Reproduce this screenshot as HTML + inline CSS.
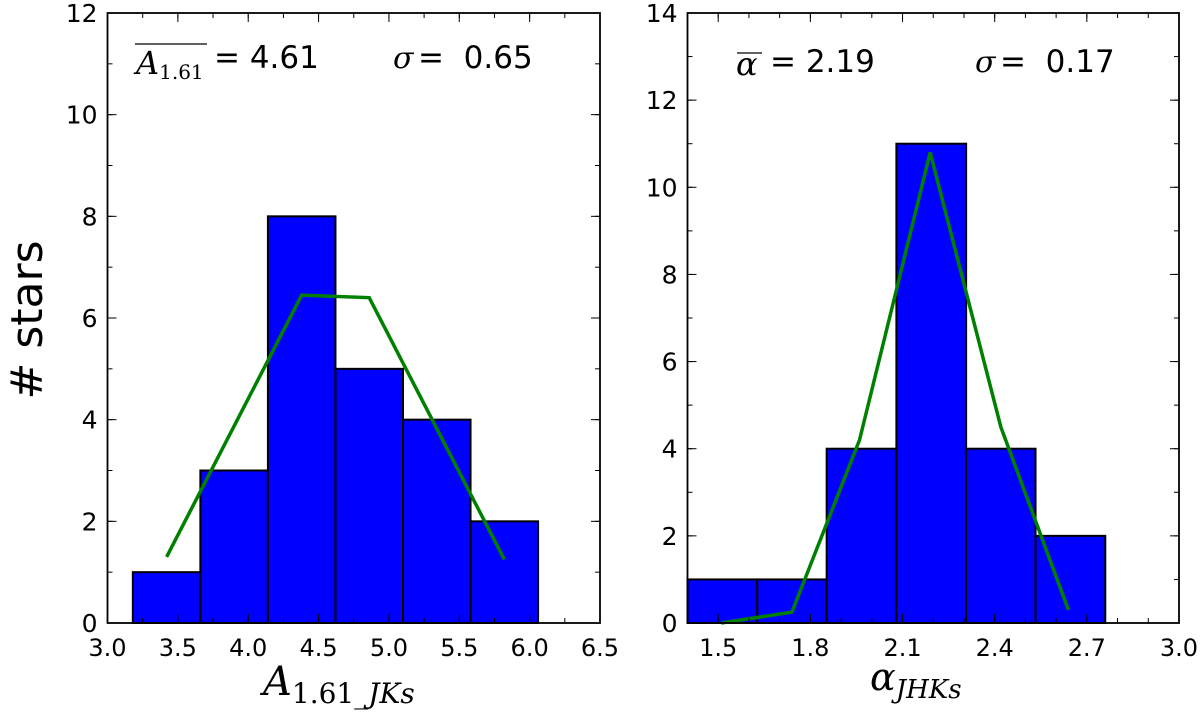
<!DOCTYPE html>
<html><head><meta charset="utf-8"><style>
body{margin:0;background:#fff;}
svg text{font-family:"DejaVu Sans","Liberation Sans",sans-serif;fill:#000;}
.serif{font-family:"DejaVu Serif","Liberation Serif",serif;font-style:italic;}
</style></head><body>
<svg id="chart" width="1200" height="722" xmlns="http://www.w3.org/2000/svg">
<text x="0" y="0" font-size="44" text-anchor="middle" transform="translate(42,320) rotate(-90)"># stars</text>
</svg>
<script>
// Left panel data
const leftEdges = [3.18, 3.66, 4.14, 4.62, 5.10, 5.58, 6.06];
const leftCounts = [1, 3, 8, 5, 4, 2];
const leftFitX = [3.42, 4.38, 4.86, 5.82];
const leftFitY = [1.3, 6.45, 6.4, 1.25];
const leftXTicks = ["3.0","3.5","4.0","4.5","5.0","5.5","6.0","6.5"];
const leftYTicks = ["0","2","4","6","8","10","12"];
// Right panel data
const rightEdges = [1.40, 1.627, 1.853, 2.08, 2.307, 2.533, 2.76];
const rightCounts = [1, 1, 4, 11, 4, 2];
const rightFitX = [1.51, 1.74, 1.96, 2.19, 2.42, 2.64];
const rightFitY = [0, 0.25, 4.2, 10.8, 4.5, 0.3];
const rightXTicks = ["1.5","1.8","2.1","2.4","2.7","3.0"];
const rightYTicks = ["0","2","4","6","8","10","12","14"];

const svg = document.getElementById('chart');
const NS = 'http://www.w3.org/2000/svg';
function mk(tag, attrs){const e=document.createElementNS(NS,tag);for(const k in attrs)e.setAttribute(k,attrs[k]);svg.appendChild(e);return e;}

function panel(p){
  const X = v => p.px0 + (v - p.xmin)/(p.xmax - p.xmin)*(p.px1 - p.px0);
  const Y = v => p.py0 - (v - p.ymin)/(p.ymax - p.ymin)*(p.py0 - p.py1);
  for(let i=0;i<p.counts.length;i++){
    const r = mk('rect',{x:X(p.edges[i]),y:Y(p.counts[i]),width:X(p.edges[i+1])-X(p.edges[i]),height:Y(0)-Y(p.counts[i]),fill:'#0000ff',stroke:'#000','stroke-width':2});
    
    
  }
  const pts = p.fx.map((x,i)=>X(x)+','+Y(p.fy[i])).join(' ');
  const pl = mk('polyline',{points:pts,fill:'none',stroke:'#008000','stroke-width':3.5});
  
  
  const fr = mk('rect',{x:p.px0,y:p.py1,width:p.px1-p.px0,height:p.py0-p.py1,fill:'none',stroke:'#000','stroke-width':1.8});
  
  
  for(let v=p.xmin; v<=p.xmax+1e-9; v+=p.xminor){
    const t=mk('line',{x1:X(v),x2:X(v),y1:p.py0,y2:p.py0-5,stroke:'#000','stroke-width':1});
    
    
    const t2=mk('line',{x1:X(v),x2:X(v),y1:p.py1,y2:p.py1+5,stroke:'#000','stroke-width':1});
    
    
  }
  p.xt.forEach(s=>{
    const v=parseFloat(s);
    mk('line',{x1:X(v),x2:X(v),y1:p.py0,y2:p.py0-9,stroke:'#000','stroke-width':1});
    mk('line',{x1:X(v),x2:X(v),y1:p.py1,y2:p.py1+9,stroke:'#000','stroke-width':1});
    const t=mk('text',{x:X(v),y:p.py0+33,'font-size':24,'text-anchor':'middle'});
    t.textContent=s;
    
    
  });
  for(let v=p.ymin; v<=p.ymax+1e-9; v+=1){
    mk('line',{x1:p.px0,x2:p.px0+5,y1:Y(v),y2:Y(v),stroke:'#000','stroke-width':1});
    mk('line',{x1:p.px1,x2:p.px1-5,y1:Y(v),y2:Y(v),stroke:'#000','stroke-width':1});
  }
  p.yt.forEach(s=>{
    const v=parseFloat(s);
    mk('line',{x1:p.px0,x2:p.px0+9,y1:Y(v),y2:Y(v),stroke:'#000','stroke-width':1});
    mk('line',{x1:p.px1,x2:p.px1-9,y1:Y(v),y2:Y(v),stroke:'#000','stroke-width':1});
    const t=mk('text',{x:p.px0-10,y:Y(v)+9,'font-size':25,'text-anchor':'end'});
    t.textContent=s;
    
    
  });
}
panel({name:'left',edges:leftEdges,counts:leftCounts,fx:leftFitX,fy:leftFitY,xt:leftXTicks,yt:leftYTicks,
  xmin:3.0,xmax:6.5,ymin:0,ymax:12,px0:107.5,px1:600,py0:623,py1:13,xminor:0.25});
panel({name:'right',edges:rightEdges,counts:rightCounts,fx:rightFitX,fy:rightFitY,xt:rightXTicks,yt:rightYTicks,
  xmin:1.4,xmax:3.0,ymin:0,ymax:14,px0:687.5,px1:1179,py0:623,py1:13,xminor:0.1});

function txt(s,x,y,size,cls,name,anchor){
  const t=mk('text',{x:x,y:y,'font-size':size,'text-anchor':anchor||'start'});
  if(cls)t.setAttribute('class',cls);
  t.innerHTML=s;
  
  
  return t;
}
mk('line',{x1:135,x2:207,y1:44,y2:44,stroke:'#000','stroke-width':1.3});
txt('A<tspan font-size="20" dy="5" font-style="normal">1.61</tspan>',136,74,32,'serif','left-mean-symbol');
txt('= 4.61',214,68,31,'','left-mean-value');
txt('σ',393,68,30,'serif','left-sigma-symbol');
txt('=&#160;&#160;0.65',418,68,31,'','left-sigma-value');
mk('line',{x1:737,x2:762,y1:53,y2:53,stroke:'#000','stroke-width':1.3});
txt('α',736,75,32,'serif','right-mean-symbol');
txt('= 2.19',770,72,31,'','right-mean-value');
txt('σ',975,72,30,'serif','right-sigma-symbol');
txt('=&#160;&#160;0.17',1000,72,31,'','right-sigma-value');
txt('A<tspan font-size="28" dy="8" font-style="normal">1.61</tspan><tspan font-size="28">_JKs</tspan>',263,695,40,'serif','left-x-axis-title');
txt('α<tspan font-size="26" dy="8">JHKs</tspan>',870,690,38,'serif','right-x-axis-title');
</script>
</body></html>
